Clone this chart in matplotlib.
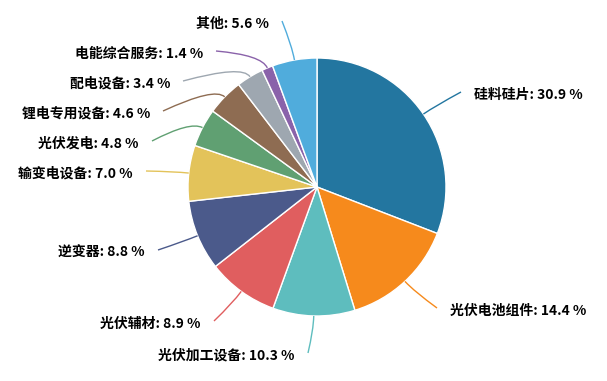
import numpy as np
import matplotlib
matplotlib.use("Agg")
import matplotlib.pyplot as plt
from matplotlib.path import Path
from matplotlib.patches import PathPatch

plt.rcParams['font.family'] = ['Noto Sans CJK SC', 'DejaVu Sans']

# data, clockwise from 12 o'clock
names = ["硅料硅片", "光伏电池组件", "光伏加工设备", "光伏辅材", "逆变器",
         "输变电设备", "光伏发电", "锂电专用设备", "配电设备", "电能综合服务", "其他"]
shares = [30.9, 14.4, 10.3, 8.9, 8.8, 7.0, 4.8, 4.6, 3.4, 1.4, 5.6]
colors = ["#2376a0", "#f68a1c", "#5ebdbe", "#e05e5f", "#4b5a8b", "#e3c35a",
          "#60a072", "#8e6c52", "#9ea7b0", "#8a62aa", "#50acdc"]

# label-line end points in pixel coords (x, y from top), as laid out in the source
label_ends = [(461, 92), (437, 308), (308, 353), (214, 321), (158, 250),
              (146, 171), (152, 141), (163, 111), (183, 81), (216, 51), (282, 21)]

W, H = 607, 381
CX, CY, R = 317, H - 187, 129

fig = plt.figure(figsize=(W / 100, H / 100), dpi=100)
ax = fig.add_axes([0, 0, 1, 1])

wedges, _ = ax.pie(shares, colors=colors, startangle=90, counterclock=False,
                   center=(CX, CY), radius=R, frame=True,
                   wedgeprops=dict(edgecolor="white", linewidth=1.0))
ax.set_xlim(0, W)
ax.set_ylim(0, H)
ax.set_axis_off()

for w, name, val, col, (ex, ey) in zip(wedges, names, shares, colors, label_ends):
    mid = np.deg2rad((w.theta1 + w.theta2) / 2)
    p0 = (CX + R * np.cos(mid), CY + R * np.sin(mid))
    p1 = (CX + (R + 14) * np.cos(mid), CY + (R + 14) * np.sin(mid))
    p2 = (ex, H - ey)
    path = Path([p0, p1, p2], [Path.MOVETO, Path.CURVE3, Path.CURVE3])
    ax.add_patch(PathPatch(path, fill=False, edgecolor=col, linewidth=1.0))
    right = ex > CX + 20
    tx = ex + 13 if right else ex - 13
    ax.text(tx, H - ey - 3, f"{name}: {val:.1f} %", ha="left" if right else "right",
            va="center", fontsize=10, fontweight="bold", color="black")

fig.savefig("out.png", dpi=100)
